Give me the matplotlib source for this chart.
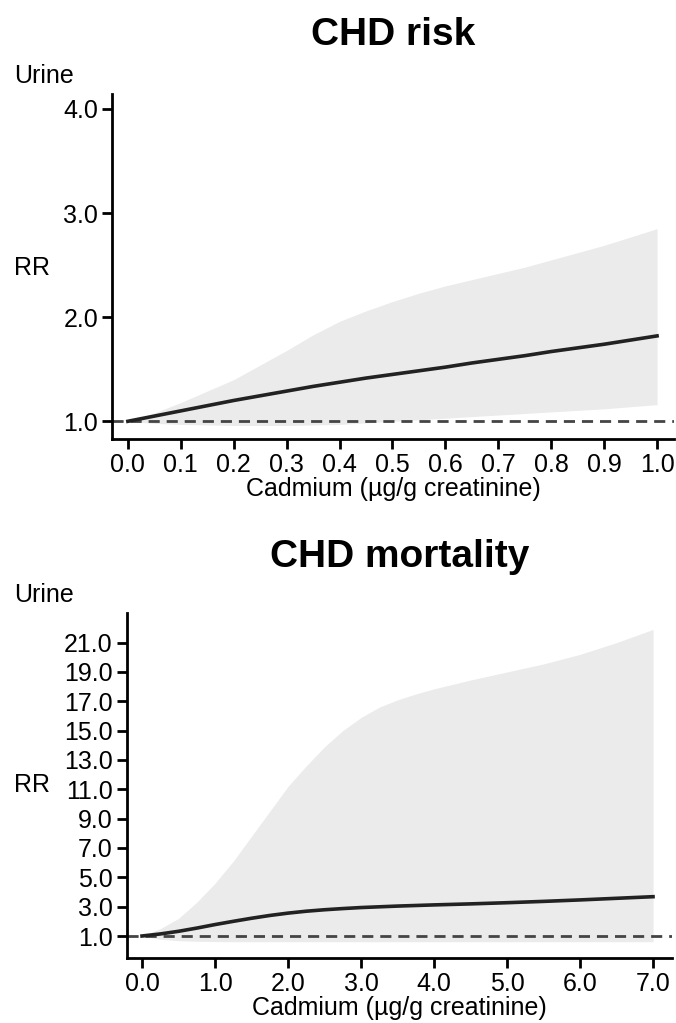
import numpy as np
import matplotlib
matplotlib.use('Agg')
import matplotlib.pyplot as plt

plt.rcParams['font.family'] = ['Liberation Sans', 'DejaVu Sans']

# CHD risk (urine cadmium, ug/g creatinine)
risk_x = [0.0, 0.05, 0.1, 0.15, 0.2, 0.25, 0.3, 0.35, 0.4, 0.45, 0.5, 0.55, 0.6,
          0.65, 0.7, 0.75, 0.8, 0.85, 0.9, 0.95, 1.0]
risk_rr = [1.0, 1.05, 1.10, 1.15, 1.20, 1.245, 1.29, 1.335, 1.375, 1.415, 1.45, 1.485, 1.52,
           1.56, 1.595, 1.63, 1.67, 1.705, 1.74, 1.78, 1.82]
risk_hi = [1.0, 1.08, 1.18, 1.29, 1.40, 1.54, 1.68, 1.83, 1.96, 2.06, 2.15, 2.23, 2.30,
           2.36, 2.42, 2.48, 2.55, 2.62, 2.69, 2.77, 2.85]
risk_lo = [1.0, 0.98, 0.97, 0.965, 0.96, 0.96, 0.96, 0.965, 0.97, 0.985, 1.0, 1.015, 1.03,
           1.045, 1.06, 1.075, 1.09, 1.105, 1.12, 1.14, 1.16]

# CHD mortality
mort_x = [0.0, 0.25, 0.5, 0.75, 1.0, 1.25, 1.5, 1.75, 2.0, 2.25, 2.5, 2.75, 3.0,
          3.25, 3.5, 3.75, 4.0, 4.5, 5.0, 5.5, 6.0, 6.5, 7.0]
mort_rr = [1.0, 1.14, 1.32, 1.54, 1.78, 2.0, 2.21, 2.40, 2.56, 2.69, 2.79, 2.87, 2.94,
           2.99, 3.04, 3.08, 3.12, 3.19, 3.27, 3.36, 3.46, 3.57, 3.68]
mort_hi = [1.0, 1.5, 2.2, 3.3, 4.6, 6.1, 7.8, 9.5, 11.2, 12.6, 13.9, 15.0, 15.9,
           16.6, 17.1, 17.5, 17.85, 18.45, 19.0, 19.55, 20.2, 21.0, 21.9]
mort_lo = [1.0, 0.78, 0.68, 0.64, 0.62, 0.61, 0.61, 0.61, 0.61, 0.61, 0.61, 0.61, 0.61,
           0.61, 0.61, 0.61, 0.61, 0.61, 0.61, 0.61, 0.61, 0.61, 0.61]

risk_ticks_x = [0.0, 0.1, 0.2, 0.3, 0.4, 0.5, 0.6, 0.7, 0.8, 0.9, 1.0]
risk_ticks_y = [1.0, 2.0, 3.0, 4.0]
mort_ticks_x = [0.0, 1.0, 2.0, 3.0, 4.0, 5.0, 6.0, 7.0]
mort_ticks_y = [1.0, 3.0, 5.0, 7.0, 9.0, 11.0, 13.0, 15.0, 17.0, 19.0, 21.0]

W, H = 676, 1023
fig = plt.figure(figsize=(W / 100, H / 100), dpi=100)
FS = 18


def panel(rect, x, rr, lo, hi, xt, yt, xlim, ylim, title, title_y, urine_y, rr_y):
    ax = fig.add_axes(rect)
    ax.fill_between(x, lo, hi, color='#ebebeb', lw=0)
    ax.axhline(1.0, color='#444444', lw=2, ls=(0, (4, 2.5)))
    ax.plot(x, rr, color='#222222', lw=2.6)
    ax.set_xlim(*xlim)
    ax.set_ylim(*ylim)
    ax.set_xticks(xt)
    ax.set_xticklabels(['%.1f' % v for v in xt])
    ax.set_yticks(yt)
    ax.set_yticklabels(['%.1f' % v for v in yt])
    for s in ['top', 'right']:
        ax.spines[s].set_visible(False)
    for s in ['left', 'bottom']:
        ax.spines[s].set_linewidth(2)
    ax.tick_params(width=2, length=7, labelsize=FS, pad=3)
    ax.set_xlabel('Cadmium (µg/g creatinine)', fontsize=FS, labelpad=0)
    fig.text(rect[0] + rect[2] / 2, 1 - title_y / H, title, fontsize=28,
             fontweight='bold', ha='center', va='baseline')
    fig.text(14 / W, 1 - urine_y / H, 'Urine', fontsize=FS, va='baseline')
    fig.text(14 / W, 1 - rr_y / H, 'RR', fontsize=FS, va='center')
    return ax


panel([112 / W, 1 - 439 / H, 562 / W, 344.7 / H], risk_x, risk_rr, risk_lo, risk_hi,
      risk_ticks_x, risk_ticks_y, (-0.03, 1.032), (0.83, 4.14),
      'CHD risk', 45, 83, 268)
panel([126.7 / W, 1 - 958.3 / H, 545.3 / W, 345 / H], mort_x, mort_rr, mort_lo, mort_hi,
      mort_ticks_x, mort_ticks_y, (-0.21, 7.26), (-0.52, 23.0),
      'CHD mortality', 567, 602, 785)

fig.savefig('out.png', dpi=100)
